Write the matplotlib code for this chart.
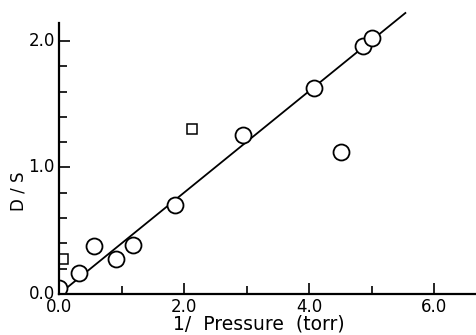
import numpy as np
import matplotlib.pyplot as plt

# ==============================
# Data
# ==============================

circle_x = [0.0, 0.32, 0.56, 0.91, 1.18, 1.86, 2.94, 4.08, 4.51, 4.86, 5.01]
circle_y = [0.05, 0.17, 0.38, 0.28, 0.39, 0.70, 1.26, 1.63, 1.12, 1.96, 2.02]

square_x = [0.06, 2.13]
square_y = [0.28, 1.30]

fit_x = [0.0, 5.54]
fit_y = [0.0, 2.22]

x_major = [0.0, 2.0, 4.0, 6.0]
x_minor = [1.0, 3.0, 5.0]
y_major = [0.0, 1.0, 2.0]
y_minor = [0.2, 0.4, 0.6, 0.8, 1.2, 1.4, 1.6, 1.8]

# ==============================
# Plot
# ==============================

fig = plt.figure(figsize=(4.76, 3.35), dpi=100)
ax = fig.add_axes([0.124, 0.122, 0.876, 0.809])

ax.plot(fit_x, fit_y, color="black", lw=1.3, zorder=2, clip_on=False)

ax.plot(
    circle_x, circle_y,
    "o", ms=11.5, mfc="white", mec="black", mew=1.3,
    zorder=3
)

ax.plot(
    square_x, square_y,
    "s", ms=7.5, mfc="white", mec="black", mew=1.1,
    zorder=3
)

ax.set_xlim(0, 6.67)
ax.set_ylim(0, 2.14)

ax.spines["top"].set_visible(False)
ax.spines["right"].set_visible(False)
ax.spines["left"].set_linewidth(1.6)
ax.spines["bottom"].set_linewidth(1.6)
ax.spines["left"].set_zorder(4)
ax.spines["bottom"].set_zorder(4)

ax.set_xticks(x_major)
ax.set_xticks(x_minor, minor=True)
ax.set_yticks(y_major)
ax.set_yticks(y_minor, minor=True)

ax.set_xticklabels(["0.0", "2.0", "4.0", "6.0"])
ax.set_yticklabels(["0.0", "1.0", "2.0"])

ax.tick_params(
    which="both", direction="in", width=1.2,
    labelsize=12, colors="black"
)
ax.tick_params(which="major", length=8)
ax.tick_params(axis="x", which="major", pad=3)
ax.tick_params(axis="y", which="major", pad=3)
ax.tick_params(which="minor", length=6)

for lab in ax.get_yticklabels():
    lab.set_va("center")

ax.set_xlabel("1/  Pressure  (torr)", fontsize=13.5)
ax.xaxis.set_label_coords(0.48, -0.077)
ax.set_ylabel("D / S", fontsize=12)
ax.yaxis.set_label_coords(-0.075, 0.38)

fig.savefig("out.png", dpi=100)
plt.close()
